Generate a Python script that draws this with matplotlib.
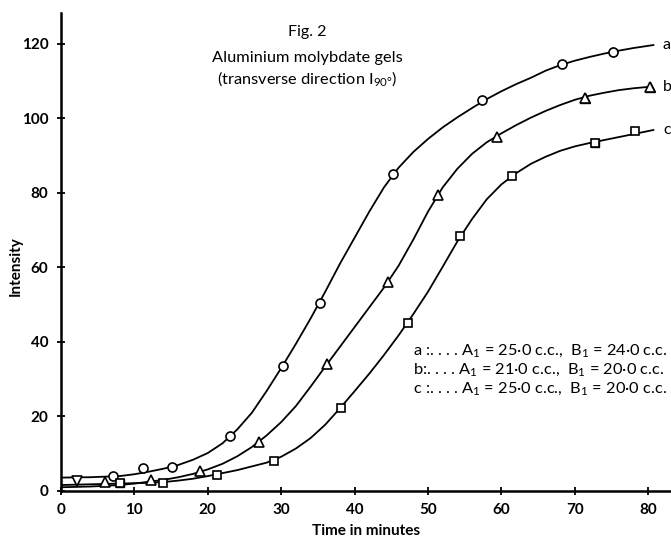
import numpy as np
import matplotlib.pyplot as plt

plt.rcParams['font.family'] = ['Lato', 'DejaVu Sans']

# fitted curves (time, intensity)
a_curve_t = [0, 4, 8, 10, 12, 14, 16, 18, 20, 22, 24, 26, 28, 30, 32, 34, 36, 38, 40, 42, 44, 46, 48, 50,
             52, 54, 56, 58, 60, 62, 64, 66, 68, 70, 72, 74, 76, 78, 80.7]
a_curve_i = [3.6, 3.7, 4.0, 4.5, 5.2, 6.0, 7.0, 8.4, 10.2, 12.8, 16.5, 21.0, 26.8, 33.0, 39.5, 46.3, 53.5, 61.0,
             68.0, 75.0, 81.5, 86.8, 91.0, 94.5, 97.6, 100.3, 102.8, 105.2, 107.3, 109.2, 110.9, 112.8, 114.3,
             115.5, 116.5, 117.4, 118.2, 118.9, 119.7]
b_curve_t = [0, 4, 8, 10, 12, 14, 16, 18, 20, 22, 24, 26, 28, 30, 32, 34, 36, 38, 40, 42, 44, 46, 48, 50,
             52, 54, 56, 58, 60, 62, 64, 66, 68, 70, 72, 74, 76, 78, 80.2]
b_curve_i = [1.0, 1.2, 1.6, 2.0, 2.5, 3.0, 3.7, 4.6, 5.8, 7.3, 9.3, 11.8, 14.9, 18.5, 22.8, 28.0, 33.4, 38.7,
             44.0, 49.3, 54.6, 60.5, 67.5, 75.0, 81.5, 86.5, 90.5, 93.6, 96.0, 98.2, 100.2, 102.0, 103.6,
             105.0, 106.1, 106.9, 107.6, 108.1, 108.5]
c_curve_t = [0, 4, 8, 12, 14, 16, 18, 20, 22, 24, 26, 28, 30, 32, 34, 36, 38, 40, 42, 44, 46, 48, 50,
             52, 54, 56, 58, 60, 62, 64, 66, 68, 70, 72, 74, 76, 78, 80.7]
c_curve_i = [1.6, 1.8, 2.0, 2.2, 2.4, 2.8, 3.3, 4.0, 4.8, 5.6, 6.6, 7.6, 9.2, 11.4, 14.2, 17.8, 22.2, 26.8,
             31.5, 36.5, 41.8, 47.5, 53.5, 60.2, 67.0, 73.0, 78.3, 82.3, 85.3, 87.8, 89.7, 91.3, 92.5, 93.4,
             94.2, 95.0, 95.8, 96.9]

# observed points
a_t = [7.1, 11.2, 15.1, 23.0, 30.2, 35.3, 45.2, 57.4, 68.2, 75.2]
a_i = [3.9, 6.2, 6.5, 14.8, 33.6, 50.5, 85.1, 105.0, 114.6, 117.8]
b_t = [6.0, 12.2, 19.0, 27.0, 36.2, 44.5, 51.3, 59.4, 71.4, 80.2]
b_i = [2.5, 3.0, 5.4, 13.1, 34.0, 56.0, 79.5, 95.0, 105.6, 108.5]
c_t = [8.0, 13.9, 21.2, 29.0, 38.1, 47.3, 54.3, 61.4, 72.8, 78.2]
c_i = [2.1, 2.2, 4.3, 8.1, 22.2, 45.2, 68.5, 84.6, 93.5, 96.5]
v_t = [2.2]
v_i = [2.7]

legend_lines = [
    r"a :. . . . A$_\mathregular{1}$ = 25·0 c.c.,  B$_\mathregular{1}$ = 24·0 c.c.",
    r"b:. . . . A$_\mathregular{1}$ = 21·0 c.c.,  B$_\mathregular{1}$ = 20·0 c.c.",
    r"c :. . . . A$_\mathregular{1}$ = 25·0 c.c.,  B$_\mathregular{1}$ = 20·0 c.c.",
]

fig = plt.figure(figsize=(6.71, 5.40), dpi=100)
ax = fig.add_axes([61 / 671, 49 / 540, 610 / 671, 478 / 540])
ax.set_xlim(0, 83.1)
ax.set_ylim(0, 128.3)

lw = 1.3
ax.plot(a_curve_t, a_curve_i, color='black', lw=lw)
ax.plot(b_curve_t, b_curve_i, color='black', lw=lw)
ax.plot(c_curve_t, c_curve_i, color='black', lw=lw)

mk = dict(ls='none', mfc='white', mec='black', mew=1.2, ms=6.5, zorder=3)
ax.plot(a_t, a_i, marker='o', **mk)
ax.plot(b_t, b_i, marker='^', **mk)
ax.plot(c_t, c_i, marker='s', **dict(mk, ms=5.5))
ax.plot(v_t, v_i, marker='v', **mk)
# a few of the points are printed solid
ax.plot([a_t[-1]], [a_i[-1]], marker='o', ls='none', color='black', ms=6)
ax.plot(b_t[-2:], b_i[-2:], marker='^', ls='none', color='black', ms=6.5)
ax.plot([c_t[0], c_t[-2]], [c_i[0], c_i[-2]], marker='s', ls='none', color='black', ms=5.5)

for lab, y in zip(['a', 'b', 'c'], [a_curve_i[-1], b_curve_i[-1], c_curve_i[-1]]):
    ax.text(82.0, y, lab, fontsize=11.5, va='center', ha='left', clip_on=False)

for k, line in enumerate(legend_lines):
    ax.text(47.9, 37.6 - k * 5.2, line, fontsize=11.8, va='center', ha='left')

ax.text(33.6, 123.3, "Fig. 2", fontsize=11.5, ha='center', va='center')
ax.text(33.6, 116.3, "Aluminium molybdate gels", fontsize=11.8, ha='center', va='center')
ax.text(33.6, 110.6, r"(transverse direction I$_\mathregular{90°}$)", fontsize=11.8, ha='center', va='center')

for s in ['top', 'right']:
    ax.spines[s].set_visible(False)
ax.spines['left'].set_linewidth(1.8)
ax.spines['bottom'].set_linewidth(1.8)

ax.set_xticks(range(0, 81, 10))
ax.set_yticks(range(0, 121, 20))
ax.tick_params(direction='inout', length=6, width=1.3, labelsize=11, pad=6)
for t in ax.get_xticklabels() + ax.get_yticklabels():
    t.set_fontweight('bold')

ax.set_xlabel("Time in minutes", fontsize=11, fontweight='bold', labelpad=5)
ax.set_ylabel("Intensity", fontsize=11, fontweight='bold')
ax.yaxis.set_label_coords(-0.063, 0.47)

fig.savefig("out.png", dpi=100)
